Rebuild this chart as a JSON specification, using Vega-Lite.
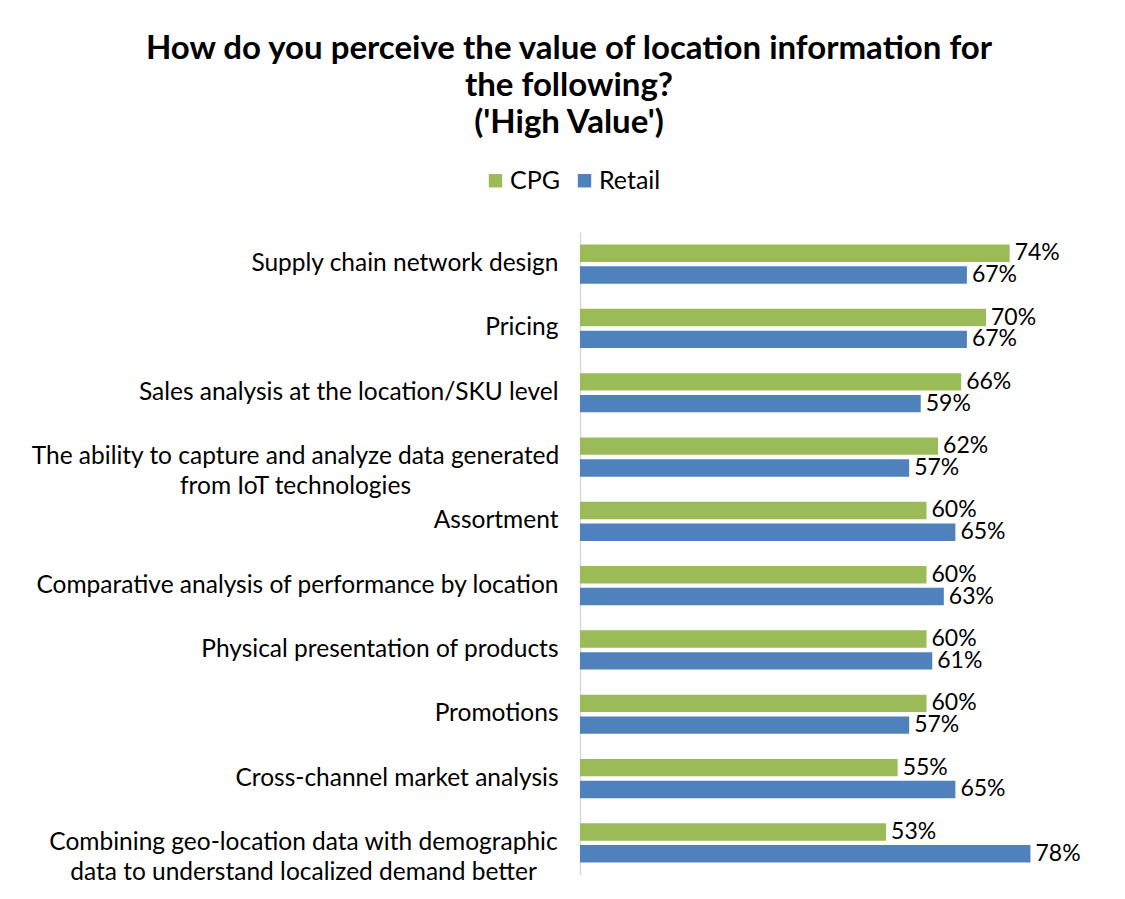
{
  "$schema": "https://vega.github.io/schema/vega-lite/v6.json",
  "width": 462,
  "height": 643,
  "autosize": {"type": "none"},
  "padding": {"left": 580, "top": 232, "right": 83, "bottom": 24},
  "background": "white",
  "title": {
    "text": ["How do you perceive the value of location information for", "the following?", "('High Value')"],
    "anchor": "middle",
    "frame": "group",
    "dx": -242,
    "fontSize": 33,
    "font": "Lato",
    "fontWeight": "bold",
    "color": "#000000",
    "lineHeight": 37,
    "offset": 28
  },
  "config": {
    "view": {"stroke": null},
    "font": "Lato"
  },
  "data": {
    "values": [
      {"category": "Supply chain network design", "series": "CPG", "value": 0.744},
      {"category": "Supply chain network design", "series": "Retail", "value": 0.67},
      {"category": "Pricing", "series": "CPG", "value": 0.703},
      {"category": "Pricing", "series": "Retail", "value": 0.67},
      {"category": "Sales analysis at the location/SKU level", "series": "CPG", "value": 0.66},
      {"category": "Sales analysis at the location/SKU level", "series": "Retail", "value": 0.59},
      {"category": "The ability to capture and analyze data generated|from IoT technologies", "series": "CPG", "value": 0.62},
      {"category": "The ability to capture and analyze data generated|from IoT technologies", "series": "Retail", "value": 0.57},
      {"category": "Assortment", "series": "CPG", "value": 0.60},
      {"category": "Assortment", "series": "Retail", "value": 0.65},
      {"category": "Comparative analysis of performance by location", "series": "CPG", "value": 0.60},
      {"category": "Comparative analysis of performance by location", "series": "Retail", "value": 0.63},
      {"category": "Physical presentation of products", "series": "CPG", "value": 0.60},
      {"category": "Physical presentation of products", "series": "Retail", "value": 0.61},
      {"category": "Promotions", "series": "CPG", "value": 0.60},
      {"category": "Promotions", "series": "Retail", "value": 0.57},
      {"category": "Cross-channel market analysis", "series": "CPG", "value": 0.55},
      {"category": "Cross-channel market analysis", "series": "Retail", "value": 0.65},
      {"category": "Combining geo-location data with demographic|data to understand localized demand better", "series": "CPG", "value": 0.53},
      {"category": "Combining geo-location data with demographic|data to understand localized demand better", "series": "Retail", "value": 0.78}
    ]
  },
  "encoding": {
    "y": {
      "field": "category",
      "type": "nominal",
      "sort": null,
      "scale": {"paddingInner": 0.39, "paddingOuter": 0.195},
      "axis": {
        "title": null,
        "ticks": false,
        "domainColor": "#d9d9d9",
        "domainWidth": 1.5,
        "labelFontSize": 24.5,
        "labelFont": "Lato",
        "labelColor": "#000000",
        "labelPadding": {"condition": [
          {"test": "indexof(datum.label, 'ability') >= 0", "value": 285},
          {"test": "indexof(datum.label, 'Combining') >= 0", "value": 277}
        ], "value": 22},
        "labelAlign": {"condition": {"test": "indexof(datum.label, '|') >= 0", "value": "center"}, "value": "right"},
        "labelLimit": 700,
        "labelLineHeight": 30,
        "labelExpr": "split(datum.label, '|')"
      }
    },
    "yOffset": {
      "field": "series",
      "type": "nominal",
      "sort": ["CPG", "Retail"],
      "scale": {"paddingInner": 0.2}
    },
    "x": {
      "field": "value",
      "type": "quantitative",
      "scale": {"domain": [0, 0.8]},
      "axis": null
    }
  },
  "layer": [
    {
      "mark": {"type": "bar"},
      "encoding": {
        "color": {
          "field": "series",
          "type": "nominal",
          "sort": ["CPG", "Retail"],
          "scale": {"domain": ["CPG", "Retail"], "range": ["#9BBB59", "#4F81BD"]},
          "legend": {
            "orient": "none",
            "legendX": -97,
            "legendY": -64,
            "direction": "horizontal",
            "title": null,
            "symbolType": "square",
            "symbolSize": 180,
            "symbolStrokeWidth": 0,
            "labelFontSize": 25,
            "labelFont": "Lato",
            "labelColor": "#000000",
            "columnPadding": 12,
            "labelOffset": 2
          }
        }
      }
    },
    {
      "mark": {"type": "text", "align": "left", "baseline": "middle", "dx": 5, "fontSize": 23, "font": "Lato", "color": "#000000"},
      "encoding": {
        "text": {"field": "value", "type": "quantitative", "format": ".0%"}
      }
    }
  ]
}
